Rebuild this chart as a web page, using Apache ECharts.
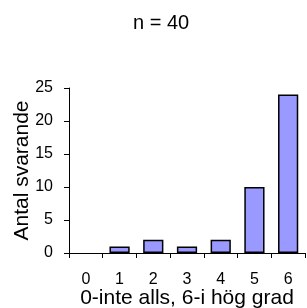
<!DOCTYPE html>
<html>
<head>
<meta charset="utf-8">
<script src="https://cdn.jsdelivr.net/npm/echarts@6/dist/echarts.min.js"></script>
<style>
  html, body { margin: 0; padding: 0; background: #fff; }
  #chart { width: 307px; height: 308px; }
</style>
</head>
<body>
<div id="chart"></div>
<script>
// data
const categories = ['0', '1', '2', '3', '4', '5', '6']
const counts = [0, 1, 2, 1, 2, 10, 24]
const yTicks = [0, 5, 10, 15, 20, 25]

const font = 'Liberation Sans, Arial, sans-serif'
const chart = echarts.init(document.getElementById('chart'))

chart.setOption({
  animation: false,
  title: {
    text: 'n = 40',
    left: 133,
    top: 13,
    padding: 0,
    textStyle: { fontFamily: font, fontSize: 20, fontWeight: 'normal', color: '#000' }
  },
  grid: { left: 69, right: 2, top: 88, bottom: 55, outerBoundsMode: 'none' },
  xAxis: {
    type: 'category',
    data: categories,
    name: '0-inte alls, 6-i hög grad',
    nameLocation: 'middle',
    nameGap: 35,
    nameMoveOverlap: false,
    nameTextStyle: { fontFamily: font, fontSize: 21, color: '#000' },
    axisLine: { lineStyle: { color: '#000', width: 1 } },
    axisTick: { show: true, length: 5, lineStyle: { color: '#000' } },
    axisLabel: { fontFamily: font, fontSize: 16, color: '#000', margin: 19 }
  },
  yAxis: {
    type: 'value',
    min: yTicks[0],
    max: yTicks[yTicks.length - 1],
    interval: 5,
    name: 'Antal svarande',
    nameLocation: 'middle',
    nameGap: 36,
    nameMoveOverlap: false,
    nameTextStyle: { fontFamily: font, fontSize: 21, color: '#000' },
    axisLine: { show: true, lineStyle: { color: '#000', width: 1 } },
    axisTick: { show: true, length: 5, lineStyle: { color: '#000' } },
    axisLabel: { fontFamily: font, fontSize: 16, color: '#000', margin: 16 },
    splitLine: { show: false }
  },
  series: [
    {
      type: 'bar',
      // an empty bar should leave no outline on the axis
      data: counts.map(v => v === 0 ? { value: v, itemStyle: { borderWidth: 0 } } : v),
      barWidth: '60%',
      itemStyle: {
        color: '#9999ff',
        borderColor: '#000',
        borderWidth: 1.5
      }
    }
  ]
})
</script>
</body>
</html>
